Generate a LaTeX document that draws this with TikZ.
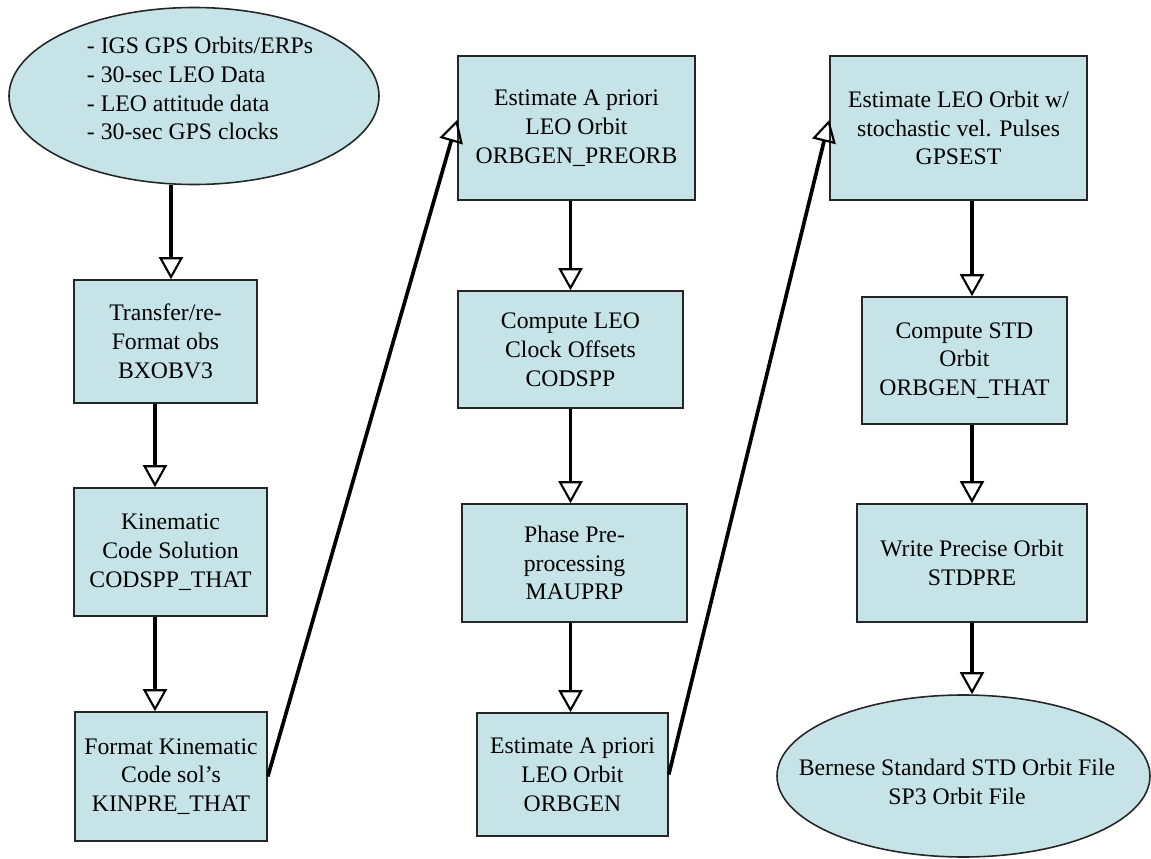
\documentclass[tikz,border=0pt]{standalone}
\usepackage{fontspec}
\setmainfont{Liberation Serif}
\usepackage{tikz}
\usetikzlibrary{calc,arrows.meta,shapes.geometric}

\definecolor{boxfill}{RGB}{198,228,232}
\tikzset{
  procbox/.style={draw=black!85,line width=0.9pt,fill=boxfill,align=center,
    inner sep=2pt,font=\fontsize{13.5pt}{16.4pt}\selectfont},
  datafile/.style={procbox,ellipse},
  flow/.style={line width=2.1pt,
    -{Triangle[open,length=0.44cm,width=0.48cm,line width=1.2pt]}}
}

\begin{document}
\begin{tikzpicture}
\useasboundingbox (0,0) rectangle (23.02,17.16);
% inputs and products
\node[datafile,minimum width=7.4cm,minimum height=3.54cm,
  label={[align=left,font=\fontsize{13.5pt}{16.4pt}\selectfont,xshift=0.12cm,yshift=0.15cm]center:{- IGS GPS Orbits/ERPs\\- 30-sec LEO Data\\- LEO attitude data\\-~30-sec GPS clocks}}]
  (src) at (3.88,15.24) {};
\node[datafile,minimum width=7.46cm,minimum height=3.24cm,
  label={[align=center,font=\fontsize{13.5pt}{16.4pt}\selectfont,xshift=-0.13cm,yshift=-0.12cm]center:{Bernese Standard STD Orbit File\\SP3 Orbit File}}]
  (sp3) at (19.27,1.64) {};
% first column
\node[procbox,minimum width=3.66cm,minimum height=2.46cm] (obs) at (3.31,10.33) {Transfer/re-\\Format obs\\BXOBV3};
\node[procbox,minimum width=3.86cm,minimum height=2.56cm] (kin) at (3.41,6.12) {Kinematic\\Code Solution\\CODSPP\_THAT};
\node[procbox,minimum width=3.84cm,minimum height=2.58cm] (kinfmt) at (3.42,1.63) {Format Kinematic\\Code sol’s\\KINPRE\_THAT};
% second column
\node[procbox,minimum width=4.74cm,minimum height=2.88cm] (apriori) at (11.53,14.6) {Estimate A priori\\LEO Orbit\\ORBGEN\_PREORB};
\node[procbox,minimum width=4.5cm,minimum height=2.34cm] (clk) at (11.41,10.17) {Compute LEO\\Clock Offsets\\CODSPP};
\node[procbox,minimum width=4.5cm,minimum height=2.36cm] (phase) at (11.49,5.9) {Phase Pre-\\processing\\MAUPRP};
\node[procbox,minimum width=3.82cm,minimum height=2.46cm] (orbgen) at (11.45,1.67) {Estimate A priori\\LEO Orbit\\ORBGEN};
% third column
\node[procbox,minimum width=5.14cm,minimum height=2.88cm] (gpsest) at (19.17,14.6) {Estimate LEO Orbit w/\\stochastic vel. Pulses\\GPSEST};
\node[procbox,minimum width=4.1cm,minimum height=2.54cm] (stdorb) at (19.29,9.95) {Compute STD\\Orbit\\ORBGEN\_THAT};
\node[procbox,minimum width=4.6cm,minimum height=2.36cm] (stdpre) at (19.44,5.9) {Write Precise Orbit\\STDPRE};
% connectors
\coordinate (s1) at ($(src.south)+(-0.46,0)$);
\coordinate (c1) at ($(obs.south)+(-0.21,0)$);
\draw[flow] (s1) -- (s1 |- obs.north);
\draw[flow] (c1) -- (c1 |- kin.north);
\draw[flow] (c1 |- kin.south) -- (c1 |- kinfmt.north);
\draw[flow] (kinfmt.east) -- ([yshift=0.16cm]apriori.west);
\draw[flow] (clk |- apriori.south) -- (clk.north);
\draw[flow] (clk.south) -- (clk |- phase.north);
\draw[flow] (clk |- phase.south) -- (clk |- orbgen.north);
\draw[flow] (orbgen.east) -- ([yshift=0.16cm]gpsest.west);
\draw[flow] (stdpre |- gpsest.south) -- (stdpre |- stdorb.north);
\draw[flow] (stdpre |- stdorb.south) -- (stdpre.north);
\draw[flow] (stdpre.south) -- (stdpre |- sp3.north);
\end{tikzpicture}
\end{document}
